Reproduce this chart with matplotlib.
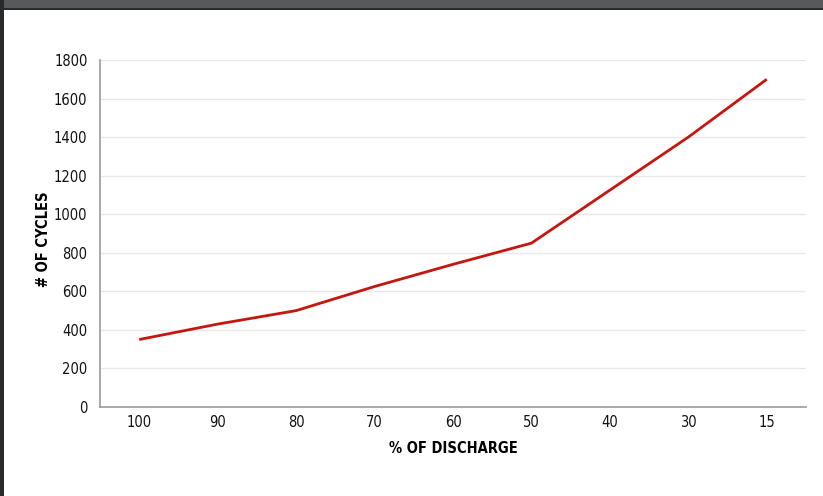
import matplotlib
matplotlib.use("Agg")
import matplotlib.pyplot as plt
from matplotlib.patches import Rectangle

# depth of discharge vs. cycle life
discharge = ["100", "90", "80", "70", "60", "50", "40", "30", "15"]
cycles = [350, 430, 500, 625, 740, 850, 1125, 1400, 1700]
y_ticks = [0, 200, 400, 600, 800, 1000, 1200, 1400, 1600, 1800]

plt.rcParams['font.family'] = ['DejaVu Sans']
plt.rcParams['font.stretch'] = 'condensed'

fig = plt.figure(figsize=(8.23, 4.96), dpi=100)
fig.patch.set_facecolor("white")

# frame bits of the screenshot
fig.patches.append(Rectangle((0, 1 - 8 / 496), 1, 8 / 496, transform=fig.transFigure,
                             facecolor="#58595b", edgecolor="none", zorder=0))
fig.patches.append(Rectangle((0, 1 - 10 / 496), 1, 2 / 496, transform=fig.transFigure,
                             facecolor="#2a2a2a", edgecolor="none", zorder=0))
fig.patches.append(Rectangle((0, 0), 4 / 823, 1, transform=fig.transFigure,
                             facecolor="#2a2a2a", edgecolor="none", zorder=0))

ax = fig.add_axes([100 / 823, 1 - 407 / 496, 706 / 823, 347 / 496])
x = list(range(len(discharge)))
ax.plot(x, cycles, color="#c3170f", linewidth=2.0, solid_capstyle="butt", zorder=3)

ax.set_xlim(-0.5, len(discharge) - 0.5)
ax.set_ylim(0, 1800)
ax.set_xticks(x)
ax.set_xticklabels(discharge)
ax.set_yticks(y_ticks)
ax.tick_params(length=0, labelsize=10.5, colors="#111111", pad=6)
ax.tick_params(axis="y", pad=9)

ax.grid(axis="y", color="#e8e8e8", linewidth=1)
ax.set_axisbelow(True)
for side in ["top", "right"]:
    ax.spines[side].set_visible(False)
for side in ["left", "bottom"]:
    ax.spines[side].set_color("#9a9a9a")
    ax.spines[side].set_linewidth(1.2)

ax.set_xlabel("% OF DISCHARGE", fontsize=10.5, fontweight="bold", labelpad=8)
ax.set_ylabel("# OF CYCLES", fontsize=10.5, fontweight="bold")
ax.yaxis.set_label_coords(-0.069, 0.485)

fig.savefig("out.png", dpi=100)
